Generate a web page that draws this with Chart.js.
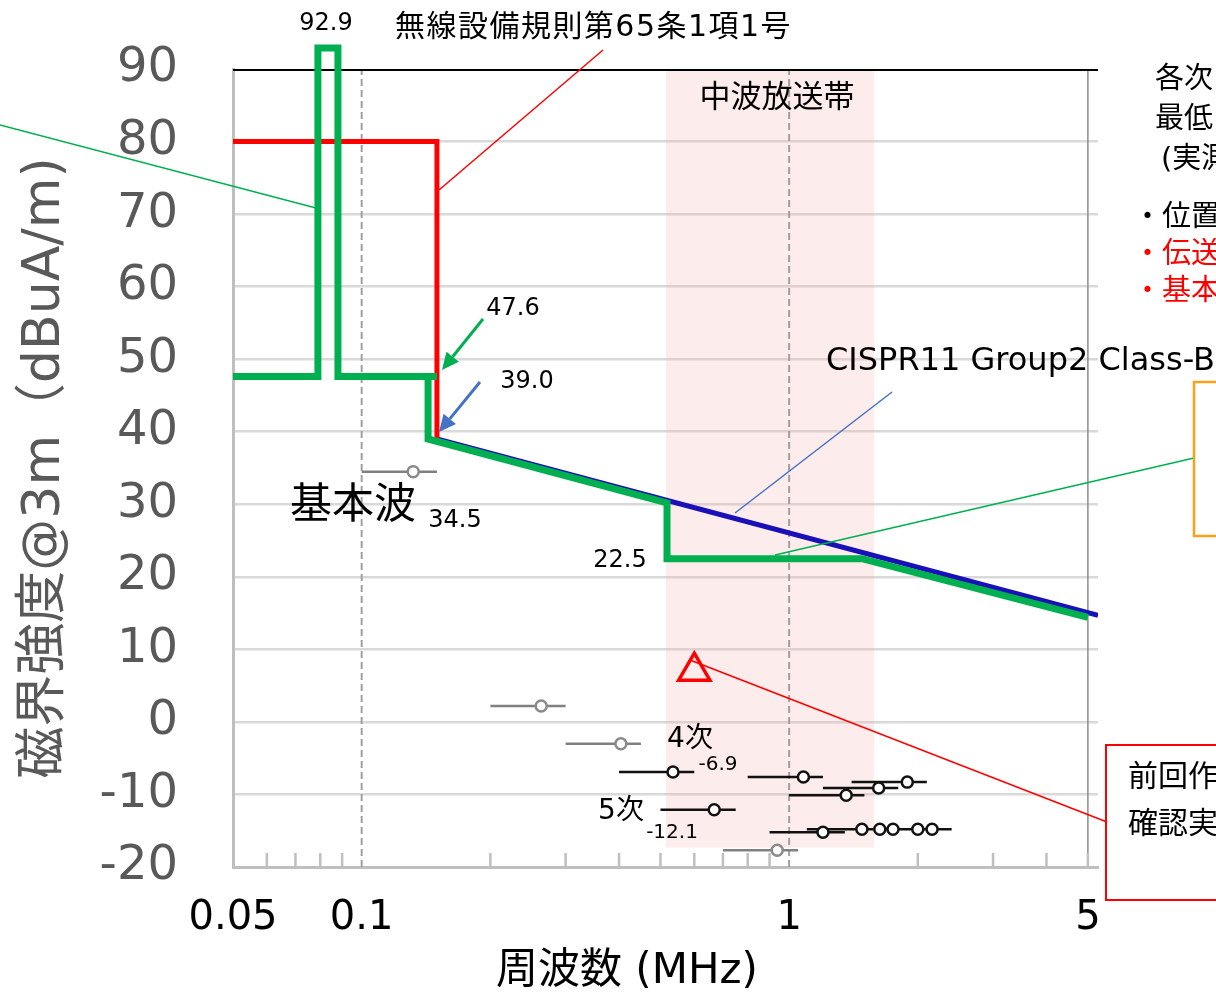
<!DOCTYPE html>
<html><head><meta charset="utf-8">
<script src="https://cdn.jsdelivr.net/npm/chart.js@4/dist/chart.umd.min.js"></script>
<style>html,body{margin:0;padding:0;background:#fff;overflow:hidden}</style>
</head><body>
<canvas id="c" width="1216" height="996"></canvas>
<script>
// ---------------- data ----------------
const xTickValues = [0.05, 0.1, 1, 5];
const xTickLabels = ['0.05', '0.1', '1', '5'];
const xMinorTicks = [0.06, 0.07, 0.08, 0.09, 0.2, 0.3, 0.4, 0.5, 0.6, 0.7, 0.8, 0.9, 2, 3, 4, 5];
const xRange = [0.05, 5.28];
const yRange = [-20, 90];

// 無線設備規則第65条1項1号 (red)
const radioRegFreq  = [0.05, 0.15, 0.15];
const radioRegLevel = [80, 80, 39];

// green limit line
const greenFreq  = [0.05, 0.079, 0.079, 0.088, 0.088, 0.15, 0.143, 0.143, 0.518, 0.518, 1.48, 5];
const greenLevel = [47.6, 47.6, 92.9, 92.9, 47.6, 47.6, 47.6, 39.0, 30.2, 22.5, 22.5, 14.4];

// orange line under green step
const orangeFreq  = [0.518, 1.5];
const orangeLevel = [22.2, 22.2];

// CISPR11 Group2 Class-B
const cisprFreq  = [0.15, 5.28];
const cisprLevel = [39.0, 14.7];

// top black line
const topFreq  = [0.05, 5.28];
const topLevel = [90, 90];

// reference vertical lines
const dashedFreq = [0.1, 1];
const solidFreq  = [5];

// 中波放送帯
const mwBandFreq  = [0.515, 1.58];
const mwBandLevel = [90, -17.3];

// 前回 (triangle)
const prevFreq  = [0.6];
const prevLevel = [7.0];

// measured harmonics (gray)
const grayFreq  = [0.132, 0.263, 0.404, 0.938];
const grayLevel = [34.5, 2.2, -3.0, -17.7];
const grayMin   = [0.1, 0.2, 0.3, 0.7];
const grayMax   = [0.15, 0.3, 0.45, 1.05];

// measured harmonics (black)
const blackFreq  = [0.535, 0.668, 1.08, 1.36, 1.62, 1.89, 1.2, 1.48, 1.63, 1.75, 2.0, 2.16];
const blackLevel = [-6.9, -12.1, -7.6, -10.1, -9.1, -8.3, -15.2, -14.8, -14.8, -14.8, -14.8, -14.8];
const blackMin   = [0.4, 0.5, 0.8, 1.0, 1.2, 1.4, 0.9, 1.1, 1.2, 1.3, 1.5, 1.6];
const blackMax   = [0.6, 0.75, 1.2, 1.5, 1.8, 2.1, 1.35, 1.65, 1.8, 1.95, 2.25, 2.4];

// ---------------- helpers ----------------
const zip = (xs, ys) => xs.map((x, i) => ({x: x, y: ys[i]}));
const bars = (mins, maxs, ys) => {
  const out = [];
  ys.forEach((y, i) => { out.push({x: mins[i], y: y}, {x: maxs[i], y: y}, {x: maxs[i], y: null}); });
  return out;
};
const vlines = (xs) => {
  const out = [];
  xs.forEach(x => { out.push({x: x, y: yRange[0]}, {x: x, y: yRange[1]}, {x: x, y: null}); });
  return out;
};
const FONT = '"DejaVu Sans", "Noto Sans CJK JP", sans-serif';
const lineDs = (data, color, width, extra) => Object.assign({
  data: data, borderColor: color, borderWidth: width, pointRadius: 0,
  fill: false, tension: 0, spanGaps: false, borderJoinStyle: 'miter', borderCapStyle: 'butt'
}, extra || {});

function txt(ctx, s, x, y, size, color, align, width) {
  ctx.save();
  ctx.font = size + 'px ' + FONT;
  ctx.fillStyle = color;
  ctx.textAlign = align || 'left';
  ctx.textBaseline = 'middle';
  if (width) {
    const w = ctx.measureText(s).width;
    const n = [...s].length;
    ctx.letterSpacing = ((width - w) / n) + 'px';
  }
  ctx.fillText(s, x, y);
  ctx.restore();
}
function seg(ctx, x1, y1, x2, y2, color, w) {
  ctx.save();
  ctx.strokeStyle = color; ctx.lineWidth = w;
  ctx.beginPath(); ctx.moveTo(x1, y1); ctx.lineTo(x2, y2); ctx.stroke();
  ctx.restore();
}
function arrow(ctx, x1, y1, x2, y2, color, w) {
  const a = Math.atan2(y2 - y1, x2 - x1);
  const L = 17, W = 8;
  const bx = x2 - L * Math.cos(a), by = y2 - L * Math.sin(a);
  seg(ctx, x1, y1, bx, by, color, w);
  ctx.save();
  ctx.fillStyle = color;
  ctx.beginPath();
  ctx.moveTo(x2, y2);
  ctx.lineTo(bx + W * Math.sin(a), by - W * Math.cos(a));
  ctx.lineTo(bx - W * Math.sin(a), by + W * Math.cos(a));
  ctx.closePath(); ctx.fill();
  ctx.restore();
}
function box(ctx, x, y, w, h, color, lw) {
  ctx.save(); ctx.strokeStyle = color; ctx.lineWidth = lw; ctx.strokeRect(x, y, w, h); ctx.restore();
}

const decor = {
  id: 'decor',
  afterDatasetsDraw(chart) {
    const ctx = chart.ctx, xs = chart.scales.x, b = chart.chartArea.bottom;
    ctx.save();
    ctx.strokeStyle = '#bfbfbf'; ctx.lineWidth = 2.5;
    xMinorTicks.forEach(v => {
      const px = xs.getPixelForValue(v);
      ctx.beginPath(); ctx.moveTo(px, b); ctx.lineTo(px, b - 14); ctx.stroke();
    });
    ctx.restore();
  },
  afterDraw(chart) {
    const ctx = chart.ctx;
    // callout lines
    seg(ctx, 0, 125, 316, 208, '#00b050', 1.5);
    seg(ctx, 439, 190, 603, 50, '#ff0000', 1.5);
    seg(ctx, 892, 392, 735, 513, '#4472c4', 1.5);
    seg(ctx, 775, 555, 1194, 458, '#00b050', 1.5);
    seg(ctx, 690, 660, 1107, 822, '#ff0000', 1.5);
    arrow(ctx, 483, 319, 442, 370, '#00b050', 3);
    arrow(ctx, 480, 382, 439, 432, '#4472c4', 3);
    // boxes
    box(ctx, 1194, 382, 40, 154, '#f7a21b', 2.5);
    box(ctx, 1106, 745, 130, 155, '#ff0000', 2);
    // texts
    txt(ctx, '92.9', 326, 24, 24, '#000', 'center');
    txt(ctx, '無線設備規則第65条1項1号', 395, 28, 30, '#000', 'left', 397);
    txt(ctx, '47.6', 513, 309, 24, '#000', 'center');
    txt(ctx, '39.0', 527, 382, 24, '#000', 'center');
    txt(ctx, '基本波', 290, 507, 42, '#000', 'left');
    txt(ctx, '34.5', 455, 521, 24, '#000', 'center');
    txt(ctx, '22.5', 620, 561, 24, '#000', 'center');
    txt(ctx, 'CISPR11 Group2 Class-B', 826, 362, 32, '#000', 'left');
    txt(ctx, '中波放送帯', 777, 99, 31, '#000', 'center');
    txt(ctx, '4次', 690, 740, 28, '#000', 'center');
    txt(ctx, '-6.9', 718, 765, 20, '#000', 'center');
    txt(ctx, '5次', 621, 812, 28, '#000', 'center');
    txt(ctx, '-12.1', 672, 833, 20, '#000', 'center');
    txt(ctx, '各次', 1155, 80, 29, '#000', 'left');
    txt(ctx, '最低', 1155, 120, 29, '#000', 'left');
    txt(ctx, '(実測', 1161, 160, 29, '#000', 'left');
    txt(ctx, '・位置', 1133, 218, 29, '#000', 'left');
    txt(ctx, '・伝送', 1133, 255, 29, '#ff0000', 'left');
    txt(ctx, '・基本', 1133, 292, 29, '#ff0000', 'left');
    txt(ctx, '前回作', 1128, 778, 30, '#000', 'left');
    txt(ctx, '確認実', 1128, 825, 30, '#000', 'left');
    // x axis title
    txt(ctx, '周波数 (MHz)', 627, 972, 42, '#000', 'center');
  }
};

// ---------------- chart ----------------
const datasets = [
  lineDs(zip(greenFreq, greenLevel), '#00b050', 7, {clip: false}),
  lineDs(zip(orangeFreq, orangeLevel), '#f7a21b', 2),
  lineDs(zip(radioRegFreq, radioRegLevel), '#ff0000', 5),
  lineDs(zip(cisprFreq, cisprLevel), '#1a10b8', 5),
  {data: zip(prevFreq, prevLevel), showLine: false, pointStyle: 'triangle', pointRadius: 18,
   borderColor: '#ff0000', borderWidth: 3.5, backgroundColor: 'rgba(0,0,0,0)'},
  {data: zip(blackFreq, blackLevel), showLine: false, pointStyle: 'circle', pointRadius: 5.5,
   borderColor: '#111', borderWidth: 2.5, backgroundColor: '#fff'},
  {data: zip(grayFreq, grayLevel), showLine: false, pointStyle: 'circle', pointRadius: 5.5,
   borderColor: '#8a8a8a', borderWidth: 2.5, backgroundColor: '#fff'},
  lineDs(bars(blackMin, blackMax, blackLevel), '#111', 2.5),
  lineDs(bars(grayMin, grayMax, grayLevel), '#808080', 2.5),
  lineDs(zip(topFreq, topLevel), '#000', 4),
  lineDs(vlines(solidFreq), '#8c8c8c', 1.5),
  lineDs(vlines(dashedFreq), '#a0a0a0', 2, {borderDash: [7, 4]}),
  lineDs(zip(mwBandFreq, [mwBandLevel[0], mwBandLevel[0]]), 'rgba(0,0,0,0)', 0,
    {fill: {value: mwBandLevel[1]}, backgroundColor: 'rgba(247,178,178,0.25)'})
];

new Chart(document.getElementById('c'), {
  type: 'line',
  data: {datasets: datasets},
  options: {
    responsive: false, animation: false, devicePixelRatio: 1,
    layout: {padding: {top: 69, right: 118, bottom: 0, left: 0}},
    plugins: {legend: {display: false}, tooltip: {enabled: false}},
    elements: {line: {tension: 0}},
    scales: {
      x: {
        type: 'logarithmic', min: xRange[0], max: xRange[1],
        afterBuildTicks: (s) => { s.ticks = xTickValues.map(v => ({value: v})); },
        afterFit: (s) => { s.height = 129; s.paddingLeft = 0; s.paddingRight = 0; },
        grid: {display: true, color: 'rgba(0,0,0,0)', drawTicks: false},
        border: {display: true, color: '#bfbfbf', width: 3},
        ticks: {
          autoSkip: false, maxRotation: 0, padding: 28, color: '#000',
          font: {family: 'DejaVu Sans', size: 40},
          callback: (v, i) => xTickLabels[i]
        }
      },
      y: {
        type: 'linear', min: yRange[0], max: yRange[1],
        afterFit: (s) => { s.width = 233; s.paddingTop = 0; s.paddingBottom = 0; },
        grid: {
          display: true, drawTicks: false, lineWidth: 2.5,
          color: (c) => (c.tick && (c.tick.value === yRange[1] || c.tick.value === yRange[0])) ? 'rgba(0,0,0,0)' : '#d9d9d9'
        },
        border: {display: true, color: '#bfbfbf', width: 3},
        ticks: {stepSize: 10, padding: 55, color: '#595959', font: {family: 'DejaVu Sans', size: 48}},
        title: {
          display: true, text: '磁界強度@3m（dBuA/m)', color: '#595959',
          font: {family: FONT, size: 52, lineHeight: 1.2}, padding: {top: 14, bottom: 0}
        }
      }
    }
  },
  plugins: [decor]
});
</script>
</body></html>
